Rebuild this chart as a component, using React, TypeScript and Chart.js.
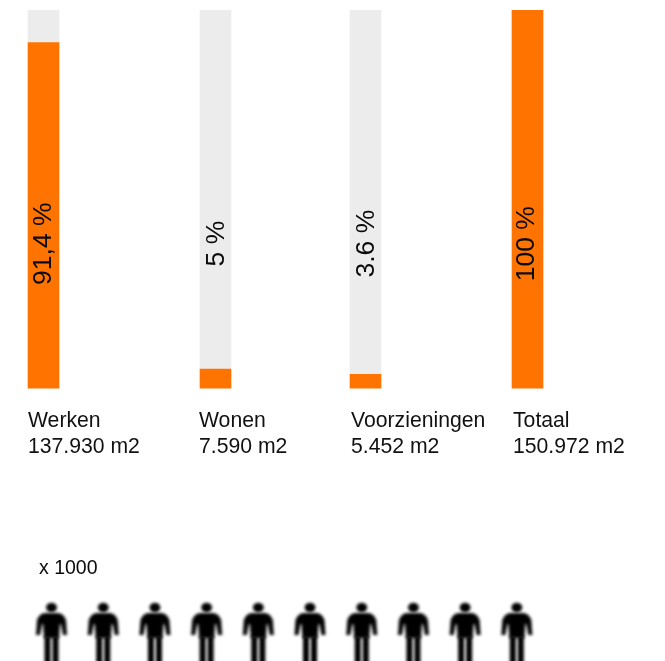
import React, { useEffect, useRef } from "react";
import { Chart, registerables } from "chart.js";

Chart.register(...registerables);

const categories = ["Werken", "Wonen", "Voorzieningen", "Totaal"];
const areaLabels = ["137.930 m2", "7.590 m2", "5.452 m2", "150.972 m2"];
const sharePercent = [91.4, 5, 3.6, 100];
const remainderPercent = [8.6, 95, 96.4, 0];
const shareLabels = ["91,4 %", "5 %", "3.6 %", "100 %"];
const peopleThousands = 10;
const peopleUnitLabel = "x 1000";

// Layout (the x axis runs in page pixels, so it mirrors the uneven spacing)
const barCentres = [43.5, 215.5, 365.5, 527.5];
const tickCentres = [43.5, 214.5, 366.5, 528.5];
const labelBaselineShift = [7.5, 8.5, 8.5, 6.5];
const personFirstX = 51.5;
const personStepX = 51.7;
const personY = -65.6;
const shareLabelY = 38.2;
const unitLabelX = 39;
const unitLabelY = -47.8;
const FONT = '"Liberation Sans", Arial, sans-serif';

function makePerson(): HTMLCanvasElement {
  const c = document.createElement("canvas");
  c.width = 44;
  c.height = 72;
  const g = c.getContext("2d")!;
  (g as any).filter = "blur(1.5px)";
  g.fillStyle = "#000";
  g.translate(22, 0);
  // head
  g.beginPath();
  g.ellipse(0, 7.5, 5.4, 4.8, 0, 0, Math.PI * 2);
  g.fill();
  // shoulders, arms, torso
  g.beginPath();
  g.moveTo(-7, 13);
  g.lineTo(7, 13);
  g.quadraticCurveTo(12.5, 14, 14.5, 20);
  g.lineTo(15.5, 35);
  g.lineTo(11.5, 35);
  g.lineTo(9.5, 24);
  g.lineTo(8.5, 24);
  g.lineTo(7.5, 38);
  g.lineTo(-7.5, 38);
  g.lineTo(-8.5, 24);
  g.lineTo(-9.5, 24);
  g.lineTo(-11.5, 35);
  g.lineTo(-15.5, 35);
  g.lineTo(-14.5, 20);
  g.quadraticCurveTo(-12.5, 14, -7, 13);
  g.closePath();
  g.fill();
  // legs
  g.fillRect(-7, 36, 6, 36);
  g.fillRect(1, 36, 6, 36);
  return c;
}

const textPlugin = {
  id: "chartText",
  afterDatasetsDraw(chart: any) {
    const { ctx, scales } = chart;
    ctx.save();
    ctx.fillStyle = "#0a0a0a";
    ctx.font = `26.5px ${FONT}`;
    ctx.textAlign = "center";
    ctx.textBaseline = "alphabetic";
    shareLabels.forEach((t, i) => {
      ctx.save();
      ctx.translate(
        scales.x.getPixelForValue(barCentres[i]) + labelBaselineShift[i],
        scales.y.getPixelForValue(shareLabelY)
      );
      ctx.rotate(-Math.PI / 2);
      ctx.fillText(t, 0, 0);
      ctx.restore();
    });
    ctx.font = `19.5px ${FONT}`;
    ctx.textAlign = "left";
    ctx.textBaseline = "middle";
    ctx.fillText(
      peopleUnitLabel,
      scales.x.getPixelForValue(unitLabelX),
      scales.y.getPixelForValue(unitLabelY)
    );
    ctx.restore();
  },
};

export default function App() {
  const ref = useRef<HTMLCanvasElement>(null);
  useEffect(() => {
    const person = makePerson();
    const chart = new Chart(ref.current!, {
      type: "bar",
      data: {
        datasets: [
          {
            type: "scatter",
            label: "Mensen",
            stack: "people",
            data: Array.from({ length: peopleThousands }, (_, i) => ({
              x: personFirstX + i * personStepX,
              y: personY,
            })),
            pointStyle: person,
            clip: false,
          },
          {
            label: "Aandeel",
            stack: "share",
            backgroundColor: "#FF7300",
            borderWidth: 0,
            barThickness: 31,
            data: sharePercent.map((v, i) => ({ x: barCentres[i], y: v })),
          },
          {
            label: "Rest",
            stack: "share",
            backgroundColor: "#ECECEC",
            borderWidth: 0,
            barThickness: 31,
            data: remainderPercent.map((v, i) => ({ x: barCentres[i], y: v })),
          },
        ] as any,
      },
      options: {
        responsive: false,
        animation: false,
        devicePixelRatio: 1,
        layout: { autoPadding: false, padding: { top: 10, left: 0, right: 0, bottom: 0 } },
        plugins: { legend: { display: false }, tooltip: { enabled: false } },
        scales: {
          x: {
            type: "linear",
            position: { y: 0 } as any,
            offset: false,
            stacked: true,
            min: 0,
            max: 665,
            grid: { display: false, drawTicks: false },
            border: { display: false },
            afterBuildTicks(scale: any) {
              scale.ticks = tickCentres.map((value) => ({ value }));
            },
            afterFit(scale: any) {
              scale.paddingLeft = 0;
              scale.paddingRight = 0;
            },
            ticks: {
              autoSkip: false,
              maxRotation: 0,
              minRotation: 0,
              align: "start",
              labelOffset: -15.5,
              padding: 20,
              color: "#111",
              font: { family: FONT, size: 21.2, lineHeight: 26 / 21.2 },
              callback: (_v: any, i: number) => [categories[i], areaLabels[i]],
            },
          },
          y: {
            display: false,
            stacked: true,
            min: -72.2,
            max: 100,
          },
        },
      } as any,
      plugins: [textPlugin],
    });
    return () => chart.destroy();
  }, []);
  return (
    <canvas
      ref={ref}
      width={665}
      height={661}
      style={{ position: "absolute", left: 0, top: 0, width: 665, height: 661 }}
    />
  );
}
